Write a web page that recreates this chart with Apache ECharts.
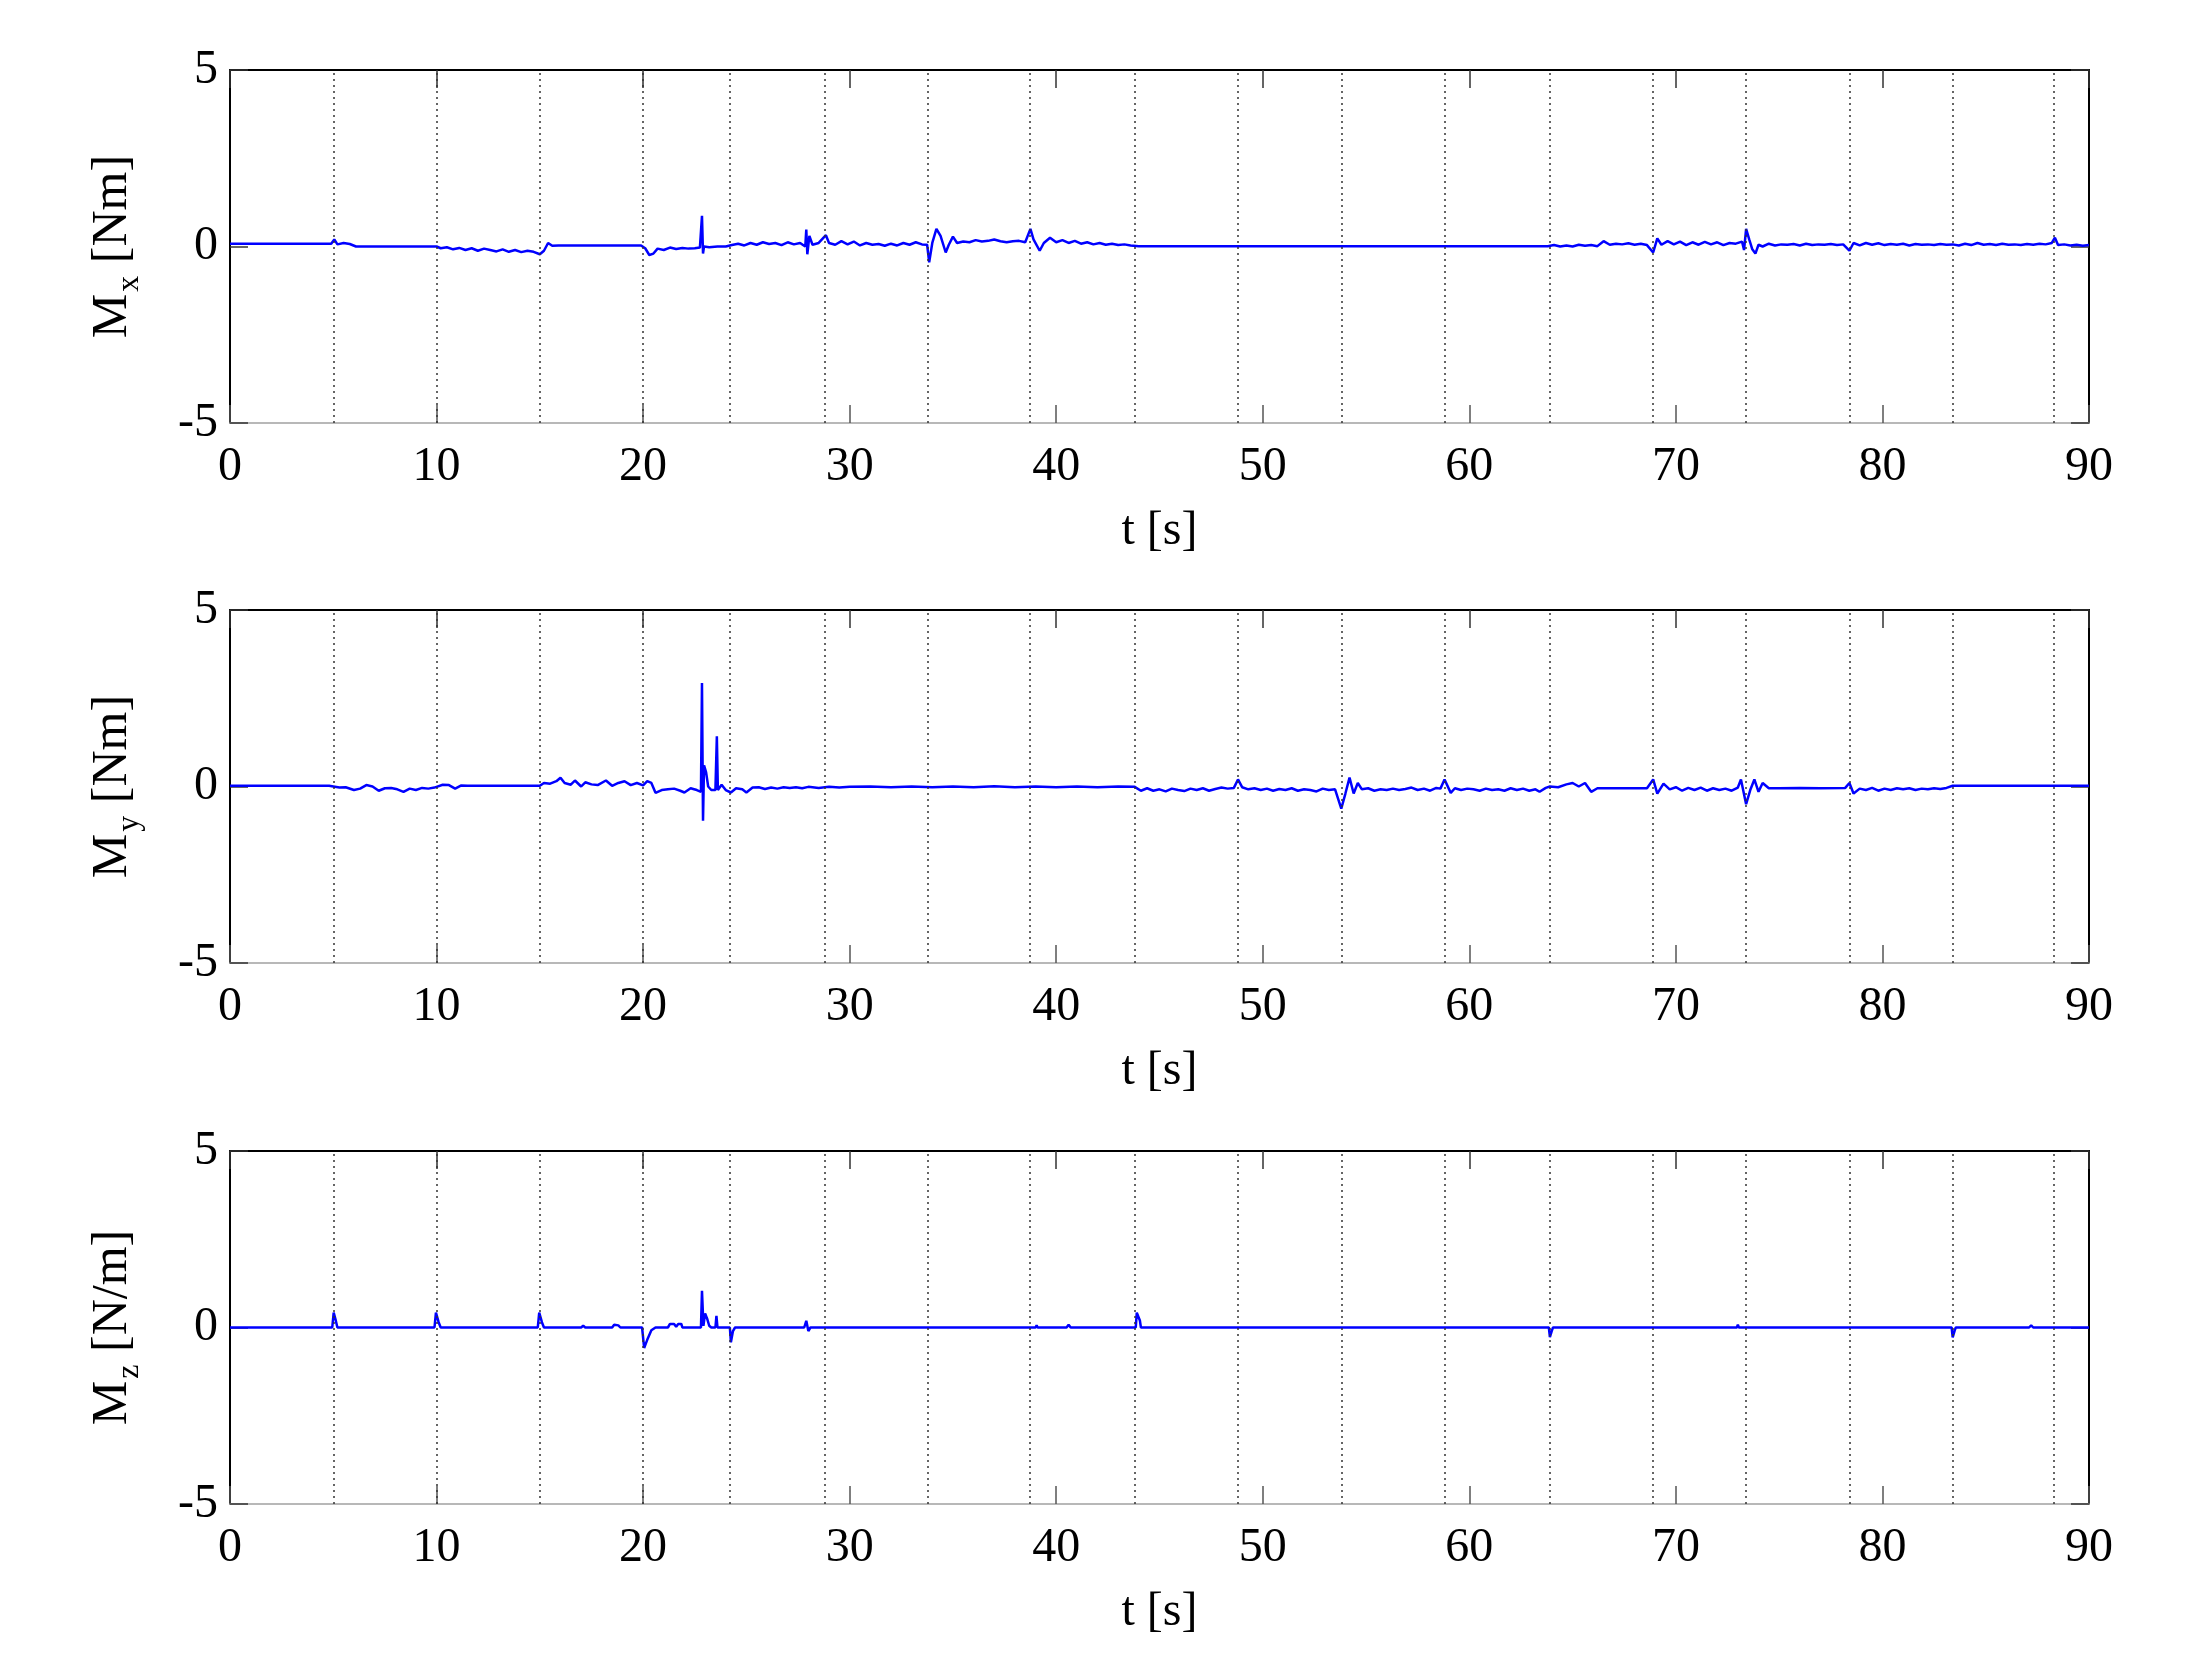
<!DOCTYPE html>
<html><head><meta charset="utf-8">
<script src="https://cdn.jsdelivr.net/npm/echarts@6/dist/echarts.min.js"></script>
<style>html,body{margin:0;padding:0;background:#fff}#c{width:2190px;height:1680px}</style>
</head><body><div id="c"></div>
<script>
// ---- data ----
const xTickValues = [0, 10, 20, 30, 40, 50, 60, 70, 80, 90];
const yTickValues = [-5, 0, 5];
const eventTimes = [5.0, 10.0, 15.0, 20.0, 24.2, 28.8, 33.8, 38.7, 43.8, 48.8, 53.8, 58.8, 63.9, 68.9, 73.4, 78.4, 83.4, 88.3];
const xLabel = 't [s]';
const ySubscripts = ['x', 'y', 'z'];
const yUnits = ['[Nm]', '[Nm]', '[N/m]'];

const mxData = [[0,0.08],[4.9,0.08],[5.05,0.2],[5.2,0.06],[5.5,0.1],[5.8,0.07],[6.1,0.0],[10.0,0.0],
[10.2,-0.05],[10.5,-0.02],[10.8,-0.08],[11.1,-0.04],[11.4,-0.1],[11.7,-0.05],[12.0,-0.12],[12.3,-0.06],[12.6,-0.1],[12.9,-0.14],[13.2,-0.08],[13.5,-0.15],[13.8,-0.1],[14.1,-0.16],[14.4,-0.12],[14.7,-0.15],[15.0,-0.22],[15.2,-0.12],[15.4,0.1],[15.6,0.02],[15.9,0.03],[19.9,0.03],
[20.1,-0.05],[20.3,-0.24],[20.5,-0.2],[20.7,-0.06],[21.0,-0.1],[21.3,-0.03],[21.6,-0.07],[21.9,-0.04],[22.2,-0.06],[22.5,-0.05],[22.75,-0.03],[22.85,0.87],[22.9,-0.2],[22.95,0.0],[23.2,-0.02],[23.6,0.0],[24.0,0.0],
[24.3,0.04],[24.6,0.08],[24.9,0.03],[25.2,0.1],[25.5,0.05],[25.8,0.12],[26.1,0.07],[26.4,0.1],[26.7,0.04],[27.0,0.12],[27.3,0.06],[27.6,0.1],[27.85,0.0],[27.9,0.48],[27.95,-0.22],[28.05,0.3],[28.2,0.05],[28.5,0.1],[28.85,0.32],
[29.0,0.1],[29.3,0.05],[29.6,0.15],[29.9,0.06],[30.2,0.14],[30.5,0.03],[30.8,0.1],[31.1,0.05],[31.4,0.07],[31.7,0.02],[32.0,0.08],[32.3,0.03],[32.6,0.1],[32.9,0.05],[33.2,0.12],[33.5,0.06],[33.75,0.05],[33.85,-0.45],
[34.0,0.1],[34.2,0.5],[34.4,0.3],[34.65,-0.17],[34.8,0.05],[35.0,0.28],[35.2,0.1],[35.5,0.14],[35.8,0.12],[36.1,0.18],[36.4,0.14],[36.7,0.16],[37.0,0.2],[37.3,0.15],[37.6,0.12],[37.9,0.15],[38.2,0.16],[38.5,0.12],[38.75,0.5],[38.9,0.2],
[39.2,-0.12],[39.4,0.1],[39.7,0.25],[40.0,0.12],[40.3,0.18],[40.6,0.1],[40.9,0.16],[41.2,0.08],[41.5,0.12],[41.8,0.06],[42.1,0.1],[42.4,0.05],[42.7,0.08],[43.0,0.04],[43.3,0.06],[43.6,0.03],[44.0,0.01],[63.8,0.01],
[64.1,0.04],[64.4,0.0],[64.7,0.03],[65.0,0.0],[65.3,0.05],[65.6,0.02],[65.9,0.04],[66.2,0.01],[66.5,0.15],[66.8,0.05],[67.1,0.08],[67.4,0.06],[67.7,0.09],[68.0,0.05],[68.3,0.08],[68.6,0.04],[68.9,-0.17],[69.1,0.23],
[69.3,0.05],[69.6,0.15],[69.9,0.06],[70.2,0.14],[70.5,0.04],[70.8,0.12],[71.1,0.05],[71.4,0.13],[71.7,0.06],[72.0,0.12],[72.3,0.04],[72.6,0.1],[72.9,0.08],[73.2,0.14],[73.3,-0.1],[73.4,0.5],[73.55,0.2],[73.7,-0.08],[73.85,-0.2],
[74.0,0.05],[74.2,0.0],[74.5,0.08],[74.8,0.03],[75.1,0.06],[75.4,0.05],[75.7,0.07],[76.0,0.03],[76.3,0.08],[76.6,0.04],[76.9,0.06],[77.2,0.05],[77.5,0.07],[77.8,0.04],[78.1,0.06],[78.4,-0.12],[78.6,0.1],
[78.9,0.03],[79.2,0.1],[79.5,0.05],[79.8,0.09],[80.1,0.04],[80.4,0.07],[80.7,0.05],[81.0,0.08],[81.3,0.03],[81.6,0.07],[81.9,0.05],[82.2,0.06],[82.5,0.04],[82.8,0.07],[83.1,0.05],[83.4,0.06],[83.7,0.03],
[84.0,0.08],[84.3,0.04],[84.6,0.1],[84.9,0.05],[85.2,0.07],[85.5,0.04],[85.8,0.08],[86.1,0.05],[86.4,0.06],[86.7,0.04],[87.0,0.07],[87.3,0.05],[87.6,0.08],[87.9,0.06],[88.2,0.1],[88.35,0.25],[88.5,0.04],[88.8,0.06],[89.1,0.03],[89.4,0.05],[89.7,0.02],[90,0.04]];

const myData = [[0,0.02],[4.8,0.02],[5.0,0.0],[5.3,-0.03],[5.6,-0.02],[6.0,-0.1],[6.3,-0.06],[6.6,0.04],[6.9,0.0],[7.2,-0.12],[7.5,-0.05],[7.8,-0.04],[8.1,-0.08],[8.4,-0.15],[8.7,-0.06],[9.0,-0.1],[9.3,-0.04],[9.6,-0.06],[9.9,-0.03],
[10.3,0.05],[10.6,0.04],[10.9,-0.06],[11.2,0.03],[11.5,0.02],[15.0,0.02],[15.2,0.1],[15.5,0.08],[15.8,0.15],[16.0,0.25],[16.2,0.1],[16.5,0.05],[16.7,0.17],[17.0,0.0],[17.2,0.12],[17.5,0.06],[17.8,0.04],[18.2,0.17],[18.5,0.02],[18.8,0.1],[19.1,0.15],[19.4,0.04],[19.7,0.1],[20.0,0.03],
[20.2,0.15],[20.4,0.1],[20.6,-0.18],[20.9,-0.1],[21.2,-0.08],[21.5,-0.06],[21.8,-0.12],[22.0,-0.17],[22.3,-0.05],[22.6,-0.1],[22.8,-0.15],[22.85,2.93],[22.9,-0.97],[22.95,0.6],[23.05,0.4],[23.15,0.0],[23.3,-0.1],[23.5,-0.1],[23.57,1.42],[23.62,-0.1],
[23.8,0.05],[24.0,-0.1],[24.25,-0.17],[24.5,-0.05],[24.8,-0.08],[25.0,-0.17],[25.3,-0.03],[25.6,-0.02],[25.9,-0.07],[26.2,-0.03],[26.5,-0.06],[26.8,-0.02],[27.1,-0.04],[27.4,-0.02],[27.7,-0.05],[28.0,-0.01],[28.5,-0.04],[29.0,-0.01],[29.5,-0.03],[30.0,-0.01],
[31,0.0],[32,-0.02],[33,0.0],[34,-0.02],[35,0.0],[36,-0.02],[37,0.01],[38,-0.02],[39,0.0],[40,-0.02],[41,0.0],[42,-0.02],[43,0.0],[43.8,-0.01],
[44.1,-0.12],[44.4,-0.05],[44.7,-0.12],[45.0,-0.08],[45.3,-0.14],[45.6,-0.06],[45.9,-0.1],[46.2,-0.13],[46.5,-0.06],[46.8,-0.1],[47.1,-0.05],[47.4,-0.12],[47.7,-0.07],[48.0,-0.03],[48.3,-0.06],[48.6,-0.04],[48.8,0.2],
[49.0,-0.02],[49.3,-0.08],[49.6,-0.05],[49.9,-0.1],[50.2,-0.06],[50.5,-0.12],[50.8,-0.07],[51.1,-0.1],[51.4,-0.05],[51.7,-0.12],[52.0,-0.08],[52.3,-0.1],[52.6,-0.14],[52.9,-0.06],[53.2,-0.1],[53.5,-0.08],[53.8,-0.63],
[54.0,-0.2],[54.2,0.25],[54.4,-0.2],[54.6,0.1],[54.8,-0.08],[55.1,-0.05],[55.4,-0.12],[55.7,-0.08],[56.0,-0.1],[56.3,-0.06],[56.6,-0.1],[56.9,-0.07],[57.2,-0.03],[57.5,-0.1],[57.8,-0.06],[58.1,-0.12],[58.4,-0.04],[58.6,-0.06],[58.8,0.2],
[59.1,-0.18],[59.3,-0.05],[59.6,-0.1],[59.9,-0.06],[60.2,-0.08],[60.5,-0.12],[60.8,-0.06],[61.1,-0.1],[61.4,-0.08],[61.7,-0.12],[62.0,-0.05],[62.3,-0.1],[62.6,-0.06],[62.9,-0.12],[63.2,-0.08],[63.4,-0.15],[63.7,-0.04],[63.9,0.0],
[64.3,-0.02],[64.7,0.06],[65.0,0.1],[65.3,0.0],[65.6,0.1],[65.9,-0.15],[66.2,-0.05],[67,-0.05],[68,-0.05],[68.6,-0.05],[68.9,0.2],[69.1,-0.2],[69.4,0.08],[69.7,-0.08],[70.0,-0.02],[70.3,-0.12],[70.6,-0.04],[70.9,-0.1],[71.2,-0.03],
[71.5,-0.12],[71.8,-0.05],[72.1,-0.1],[72.4,-0.06],[72.7,-0.12],[73.0,-0.03],[73.15,0.2],[73.4,-0.5],[73.6,-0.1],[73.8,0.2],[74.0,-0.15],[74.2,0.1],[74.5,-0.05],[75,-0.05],[76,-0.04],[77,-0.05],[78.2,-0.04],[78.4,0.1],[78.6,-0.2],
[78.9,-0.06],[79.2,-0.1],[79.5,-0.04],[79.8,-0.12],[80.1,-0.06],[80.4,-0.1],[80.7,-0.05],[81.0,-0.08],[81.3,-0.05],[81.6,-0.1],[81.9,-0.06],[82.2,-0.08],[82.5,-0.05],[82.8,-0.07],[83.1,-0.04],[83.4,0.02],[90,0.02]];

const mzData = [[0,0],[4.95,0],[5.02,0.42],[5.12,0.2],[5.2,0],[9.9,0],[9.97,0.42],[10.1,0.15],[10.2,0],[14.9,0],[14.97,0.42],[15.1,0.15],[15.2,0],[17.0,0],[17.1,0.05],[17.2,0],[18.5,0],[18.6,0.08],[18.8,0.06],[18.9,0],
[19.95,0],[20.05,-0.58],[20.2,-0.35],[20.4,-0.08],[20.6,0],[21.2,0],[21.3,0.1],[21.5,0.1],[21.6,0.02],[21.7,0.1],[21.85,0.1],[21.9,0],[22.8,0],[22.85,1.04],[22.92,0.05],[23.0,0.4],[23.1,0.25],[23.2,0.05],[23.3,0],
[23.5,0],[23.55,0.33],[23.6,0.0],[24.2,0],[24.25,-0.42],[24.35,-0.1],[24.45,0],[27.8,0],[27.9,0.19],[28.0,-0.1],[28.1,0],[39.0,0],[39.05,0.06],[39.1,0],[40.5,0],[40.6,0.08],[40.7,0],[43.85,0],[43.9,0.42],[44.05,0.2],[44.1,0],
[63.85,0],[63.9,-0.27],[64.0,-0.08],[64.05,0],[72.95,0],[73.0,0.08],[73.05,0],[83.35,0],[83.4,-0.28],[83.5,-0.08],[83.55,0],[87.1,0],[87.2,0.06],[87.3,0],[90,0]];

const seriesData = [mxData, myData, mzData];

// ---- chart ----
const FONT = 'Liberation Serif';
const gridTops = [70, 610, 1151];
const GH = 353, GL = 230, GW = 1859;
const xMin = xTickValues[0], xMax = xTickValues[xTickValues.length - 1], xStep = xTickValues[1] - xTickValues[0];
const yMin = yTickValues[0], yMax = yTickValues[yTickValues.length - 1], yStep = yTickValues[1] - yTickValues[0];

const grids = [], xAxes = [], yAxes = [], series = [];
for (let i = 0; i < 3; i++) {
  grids.push({ left: GL, top: gridTops[i], width: GW, height: GH, containLabel: false });
  xAxes.push({
    type: 'value', gridIndex: i, position: 'bottom', min: xMin, max: xMax, interval: xStep,
    axisLine: { onZero: false, lineStyle: { color: '#b8b8b8', width: 2 } },
    axisTick: { inside: true, length: 18, lineStyle: { color: '#555', width: 1.5 } },
    axisLabel: { color: '#000', fontFamily: FONT, fontSize: 48, margin: 20 },
    splitLine: { show: false },
    name: xLabel, nameLocation: 'middle', nameGap: 84,
    nameTextStyle: { color: '#000', fontFamily: FONT, fontSize: 48 }
  });
  xAxes.push({
    type: 'value', gridIndex: i, position: 'top', min: xMin, max: xMax, interval: xStep,
    axisLine: { onZero: false, lineStyle: { color: '#000', width: 2 } },
    axisTick: { inside: true, length: 18, lineStyle: { color: '#333', width: 1.5 } },
    axisLabel: { show: false }, splitLine: { show: false }
  });
  yAxes.push({
    type: 'value', gridIndex: i, position: 'left', min: yMin, max: yMax, interval: yStep,
    axisLine: { show: true, onZero: false, lineStyle: { color: '#000', width: 2 } },
    axisTick: { show: true, inside: true, length: 18, lineStyle: { color: '#333', width: 1.5 } },
    axisLabel: { color: '#000', fontFamily: FONT, fontSize: 48, margin: 12 },
    splitLine: { show: false },
    name: '{m|M}{s|' + ySubscripts[i] + '}{m| ' + yUnits[i] + '}',
    nameLocation: 'middle', nameGap: 92, nameRotate: 90,
    nameTextStyle: {
      color: '#000', fontFamily: FONT, fontSize: 48,
      rich: {
        m: { fontFamily: FONT, fontSize: 50, lineHeight: 50, color: '#000', verticalAlign: 'top' },
        s: { fontFamily: FONT, fontSize: 32, lineHeight: 32, color: '#000', verticalAlign: 'top', padding: [26, 0, 0, 2] }
      }
    }
  });
  yAxes.push({
    type: 'value', gridIndex: i, position: 'right', min: yMin, max: yMax, interval: yStep,
    axisLine: { show: true, onZero: false, lineStyle: { color: '#000', width: 2 } },
    axisTick: { show: true, inside: true, length: 18, lineStyle: { color: '#333', width: 1.5 } },
    axisLabel: { show: false }, splitLine: { show: false }
  });
  series.push({
    type: 'line', xAxisIndex: 2 * i, yAxisIndex: 2 * i, data: seriesData[i],
    showSymbol: false, symbol: 'none', z: 3,
    lineStyle: { color: '#0000ff', width: 2.5 },
    markLine: {
      silent: true, symbol: ['none', 'none'], label: { show: false },
      lineStyle: { color: '#333', width: 1.5, type: [2, 4] },
      emphasis: { disabled: true },
      animation: false,
      data: eventTimes.map(t => ({ xAxis: t }))
    }
  });
}

const chart = echarts.init(document.getElementById('c'), null, { renderer: 'canvas' });
chart.setOption({
  backgroundColor: '#fff', animation: false,
  grid: grids, xAxis: xAxes, yAxis: yAxes, series: series
});
</script>
</body></html>
